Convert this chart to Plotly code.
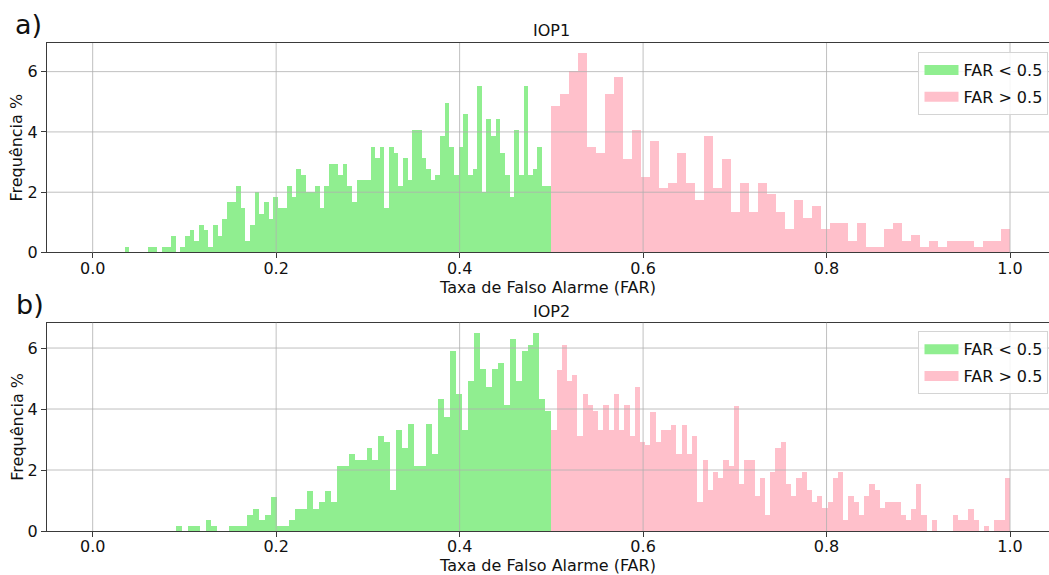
import numpy as np
import plotly.graph_objects as go

# ---------------- data (percent of cases per FAR bin) ----------------
x_ticks = [0.0, 0.2, 0.4, 0.6, 0.8, 1.0]
y_ticks = [0, 2, 4, 6]

labels = ["FAR < 0.5", "FAR > 0.5"]
panel_titles = ["IOP1", "IOP2"]
panel_tags = ["a)", "b)"]

# IOP1, FAR < 0.5 : bin range and heights
iop1_low_range = (0.035, 0.5)
iop1_low = [0.18, 0, 0, 0, 0, 0.18, 0.18, 0, 0.18, 0.18,
            0.55, 0, 0.18, 0.55, 0.74, 0.37, 0.92, 0.74, 0.18, 0.92,
            0.55, 1.10, 1.66, 1.66, 2.21, 1.47, 0.37, 0.92, 2.02, 1.29,
            1.66, 1.10, 1.84, 1.47, 1.47, 2.21, 1.84, 2.76, 2.58, 2.02,
            2.02, 2.21, 1.47, 2.21, 2.94, 2.94, 2.58, 2.94, 2.21, 1.66,
            2.39, 2.39, 2.39, 3.50, 3.13, 3.50, 1.47, 3.50, 3.31, 2.21,
            3.13, 2.39, 4.05, 4.05, 3.13, 2.76, 2.39, 2.58, 3.86, 4.97,
            3.50, 2.58, 3.50, 4.60, 2.58, 2.76, 5.52, 2.02, 4.42, 3.86,
            4.42, 3.31, 2.58, 1.84, 4.05, 2.58, 5.52, 2.58, 2.76, 3.50,
            2.21, 2.21]

# IOP1, FAR > 0.5
iop1_high_range = (0.5, 1.0)
iop1_high = [4.86, 5.26, 6.02, 6.61, 3.49, 3.30, 5.26, 5.83, 3.11, 4.08,
             2.52, 3.69, 2.14, 2.32, 3.29, 2.32, 1.74, 3.88, 2.14, 3.11,
             1.36, 2.32, 1.36, 2.32, 1.93, 1.36, 0.77, 1.73, 1.16, 1.54,
             0.77, 0.97, 0.97, 0.37, 0.97, 0.18, 0.18, 0.77, 0.97, 0.37,
             0.57, 0.18, 0.37, 0.18, 0.37, 0.37, 0.37, 0.18, 0.37, 0.37,
             0.77]

# IOP2, FAR < 0.5
iop2_low_range = (0.0905, 0.5)
iop2_low = [0.16, 0, 0.16, 0.16, 0, 0.36, 0.16, 0, 0, 0.16,
            0.16, 0.16, 0.55, 0.74, 0.36, 0.55, 1.14, 0.16, 0.16, 0.36,
            0.74, 0.74, 1.33, 0.74, 0.95, 1.33, 0.95, 2.15, 2.15, 2.54,
            2.34, 2.34, 2.73, 2.34, 3.14, 2.93, 1.35, 3.33, 2.73, 3.52,
            2.15, 2.15, 3.52, 2.54, 4.33, 3.74, 5.90, 4.51, 3.33, 4.92,
            6.49, 5.31, 4.72, 5.31, 5.51, 4.13, 6.30, 4.92, 5.90, 6.10,
            6.49, 4.33, 3.93]

# IOP2, FAR > 0.5
iop2_high_range = (0.5, 1.0)
iop2_high = [3.33, 5.30, 6.10, 4.92, 5.11, 3.14, 4.51, 4.13, 3.93, 3.33,
             4.13, 3.33, 4.51, 3.33, 4.13, 3.14, 4.72, 2.93, 2.84, 3.90,
             2.93, 3.31, 3.31, 3.50, 2.54, 3.50, 2.54, 3.14, 0.96, 2.33,
             1.36, 1.93, 1.75, 2.33, 2.13, 4.10, 1.55, 2.33, 2.33, 1.15,
             1.74, 0.55, 1.93, 2.73, 2.93, 1.55, 1.15, 1.74, 1.93, 1.36,
             0.96, 1.15, 0.77, 0.96, 1.74, 1.93, 0.36, 1.15, 0.95, 0.55,
             1.15, 1.55, 1.36, 0.77, 0.95, 0.95, 0.95, 0.55, 0.36, 0.74,
             1.55, 0.55, 0, 0.36, 0, 0, 0, 0.55, 0.36, 0.36,
             0.74, 0.36, 0, 0.16, 0, 0.36, 0.36, 1.74]

# ---------------- styling ----------------
FONT = "DejaVu Sans"
FS = 16
GREEN = "#90EE90"
PINK = "#FFC0CB"
TXT = "#111111"
GRID = "#b0b0b0"
AX = "#3a3a3a"


def bin_geometry(rng, vals):
    lo, hi = rng
    w = (hi - lo) / len(vals)
    centers = lo + w * (np.arange(len(vals)) + 0.5)
    return centers, w


fig = go.Figure()

panels = [
    ("x", "y", "legend", (iop1_low_range, iop1_low), (iop1_high_range, iop1_high)),
    ("x2", "y2", "legend2", (iop2_low_range, iop2_low), (iop2_high_range, iop2_high)),
]

for xa, ya, lg, low, high in panels:
    for (rng, vals), color, name in ((low, GREEN, labels[0]), (high, PINK, labels[1])):
        cx, w = bin_geometry(rng, vals)
        grp = f"{lg}-{name}"
        fig.add_trace(go.Bar(
            x=cx, y=vals, width=w, name=name,
            marker=dict(color=color, line=dict(width=0)),
            xaxis=xa, yaxis=ya, legend=lg, legendgroup=grp,
            showlegend=False, hoverinfo="x+y",
        ))
        # legend entry drawn as a wide patch (matplotlib-style swatch)
        fig.add_trace(go.Scatter(
            x=[None], y=[None], mode="lines", name=name,
            line=dict(color=color, width=10),
            xaxis=xa, yaxis=ya, legend=lg, legendgroup=grp, showlegend=True,
        ))

axis_common = dict(
    showgrid=False, zeroline=False, showline=True, linecolor=AX, linewidth=1,
    ticks="outside", ticklen=5, tickwidth=1, tickcolor=AX,
    tickfont=dict(family=FONT, size=FS, color=TXT),
)
title_font = dict(family=FONT, size=FS, color=TXT)

xrange_ = [-0.0498, 1.0425]
legend_common = dict(
    x=0.9995, xanchor="right", yanchor="top",
    bgcolor="rgba(255,255,255,0.85)", bordercolor="#d4d4d4", borderwidth=1,
    font=dict(family=FONT, size=FS, color=TXT), tracegroupgap=3, itemwidth=34,
)
x_title = "Taxa de Falso Alarme (FAR)"
y_title = "Frequência %"
fig.update_layout(
    width=1049, height=575,
    margin=dict(l=47, r=0, t=43, b=44),
    paper_bgcolor="white", plot_bgcolor="white",
    barmode="overlay", bargap=0,
    font=dict(family=FONT, size=FS, color=TXT),
    xaxis=dict(domain=[0, 1], anchor="y", range=xrange_, tickvals=x_ticks,
               tickformat=".1f", mirror=True, ticklabelstandoff=-4,
               title=dict(text=x_title, standoff=0, font=title_font),
               **axis_common),
    yaxis=dict(domain=[0.5707, 1.0], anchor="x", range=[0, 6.95], tickvals=y_ticks,
               title=dict(text=y_title, standoff=0, font=title_font),
               **axis_common),
    xaxis2=dict(domain=[0, 1], anchor="y2", range=xrange_, tickvals=x_ticks,
                tickformat=".1f", mirror=True, ticklabelstandoff=-4,
                title=dict(text=x_title, standoff=0, font=title_font),
                **axis_common),
    yaxis2=dict(domain=[0, 0.4268], anchor="x2", range=[0, 6.83], tickvals=y_ticks,
                title=dict(text=y_title, standoff=0, font=title_font),
                **axis_common),
    legend=dict(y=0.9816, **legend_common),
    legend2=dict(y=0.4092, **legend_common),
    showlegend=True,
)

# grid lines drawn over the bars (as in the original figure)
shapes = []
for xa, ya in (("x", "y"), ("x2", "y2")):
    for t in x_ticks:
        shapes.append(dict(type="line", xref=xa, yref=f"{ya} domain", x0=t, x1=t, y0=0, y1=1,
                           line=dict(color=GRID, width=0.8), layer="above"))
    for t in y_ticks[1:]:
        shapes.append(dict(type="line", xref=f"{xa} domain", yref=ya, x0=0, x1=1, y0=t, y1=t,
                           line=dict(color=GRID, width=0.8), layer="above"))
fig.update_layout(shapes=shapes)

annotations = [
    dict(text=panel_titles[0], xref="paper", yref="paper", x=0.503, y=1.0246,
         xanchor="center", yanchor="middle", showarrow=False, font=title_font),
    dict(text=panel_titles[1], xref="paper", yref="paper", x=0.503, y=0.4508,
         xanchor="center", yanchor="middle", showarrow=False, font=title_font),
    dict(text=panel_tags[0], xref="paper", yref="paper", x=-0.0342, y=1.0369,
         xanchor="left", yanchor="middle", showarrow=False,
         font=dict(family=FONT, size=27, color=TXT)),
    dict(text=panel_tags[1], xref="paper", yref="paper", x=-0.0332, y=0.4643,
         xanchor="left", yanchor="middle", showarrow=False,
         font=dict(family=FONT, size=27, color=TXT)),
]
fig.update_layout(annotations=annotations)

fig.write_html("out.html")
